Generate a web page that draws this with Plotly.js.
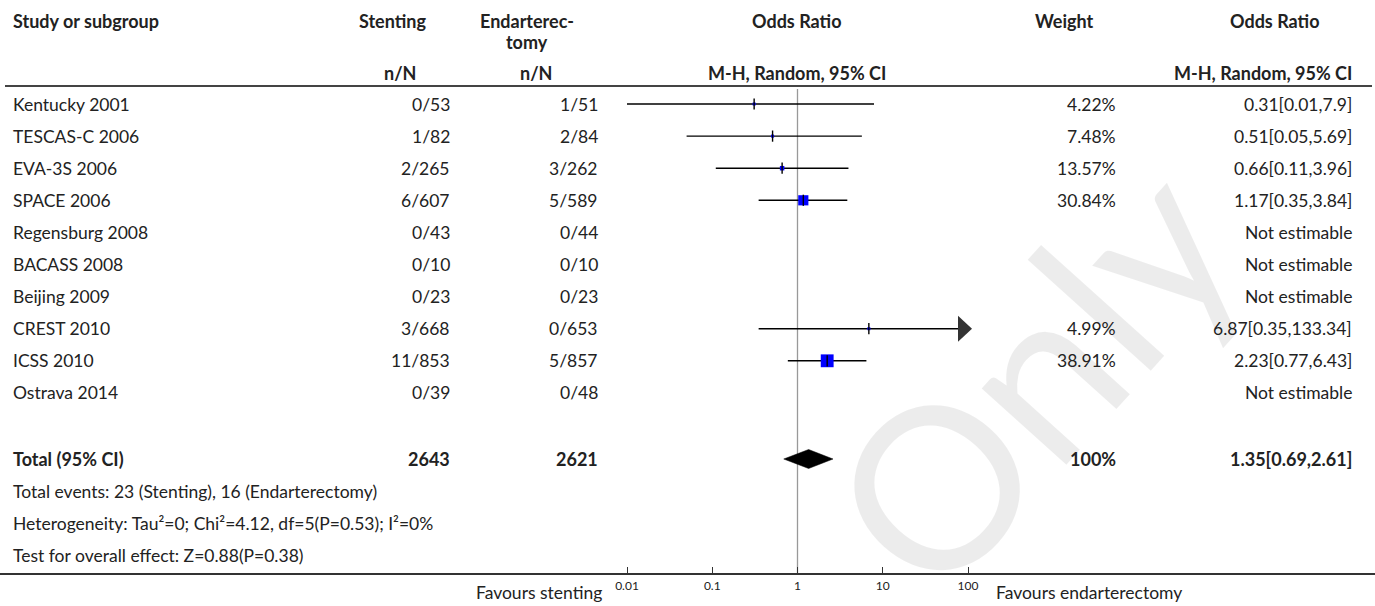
<!DOCTYPE html>
<html>
<head>
<meta charset="utf-8">
<script src="https://cdn.plot.ly/plotly-3.0.1.min.js"></script>
<style>html,body{margin:0;padding:0;background:#fff;}#chart{width:1375px;height:606px;}</style>
</head>
<body>
<div id="chart"></div>
<script>
// ---------- data ----------
const studies = ['Kentucky 2001','TESCAS-C 2006','EVA-3S 2006','SPACE 2006','Regensburg 2008','BACASS 2008','Beijing 2009','CREST 2010','ICSS 2010','Ostrava 2014'];
const stentingNN = ['0/53','1/82','2/265','6/607','0/43','0/10','0/23','3/668','11/853','0/39'];
const endartNN = ['1/51','2/84','3/262','5/589','0/44','0/10','0/23','0/653','5/857','0/48'];
const oddsRatio = [0.31,0.51,0.66,1.17,null,null,null,6.87,2.23,null];
const ciLow = [0.01,0.05,0.11,0.35,null,null,null,0.35,0.77,null];
const ciHigh = [7.9,5.69,3.96,3.84,null,null,null,133.34,6.43,null];
const weights = [4.22,7.48,13.57,30.84,null,null,null,4.99,38.91,null];
const orLabels = ['0.31[0.01,7.9]','0.51[0.05,5.69]','0.66[0.11,3.96]','1.17[0.35,3.84]','Not estimable','Not estimable','Not estimable','6.87[0.35,133.34]','2.23[0.77,6.43]','Not estimable'];
const totalStenting = '2643';
const totalEndart = '2621';
const totalWeight = '100%';
const totalOR = 1.35, totalLow = 0.69, totalHigh = 2.61;
const totalLabel = '1.35[0.69,2.61]';
const footLines = ['Total events: 23 (Stenting), 16 (Endarterectomy)',
  'Heterogeneity: Tau\u00b2=0; Chi\u00b2=4.12, df=5(P=0.53); I\u00b2=0%',
  'Test for overall effect: Z=0.88(P=0.38)'];
const tickVals = [0.01,0.1,1,10,100];
const tickText = ['0.01','0.1','1','10','100'];
const axisMax = 100;

// ---------- layout helpers ----------
const W = 1375, H = 606;
const FONT = 'Lato, "Source Sans Pro", sans-serif';
const FS = 17.5, FSB = 18;
const PITCH = 32.1, ROW0 = 104;
const rowOfPx = p => (p - ROW0) / PITCH;
const px = x => x / W;
const X_AX0 = 627, X_AX1 = 968;
const dec = (X_AX1 - X_AX0) / 4;
const xRange = [-2 - X_AX0 / dec, 2 + (W - X_AX1) / dec];

const rowTotal = rowOfPx(459);
const footRows = [rowOfPx(491), rowOfPx(523), rowOfPx(555)];

const traces = [];
traces.push({x:[1,1], y:[rowOfPx(89), rowOfPx(574)], mode:'lines', line:{color:'#999', width:1.3}, hoverinfo:'skip', showlegend:false});

studies.forEach((s,i) => {
  if (oddsRatio[i] == null) return;
  const clipped = ciHigh[i] > axisMax;
  const hiEnd = clipped ? Math.pow(10, Math.log10(axisMax) - 10/dec) : ciHigh[i];
  traces.push({x:[ciLow[i], hiEnd], y:[i,i], mode:'lines', line:{color:'#000', width:1.4}, hoverinfo:'skip', showlegend:false});
  traces.push({x:[oddsRatio[i]], y:[i], mode:'markers', marker:{symbol:'square', color:'#0000ff', size:Math.max(3, weights[i]*0.33), line:{width:0}}, hoverinfo:'skip', showlegend:false});
  traces.push({x:[oddsRatio[i]], y:[i], mode:'markers', marker:{symbol:'line-ns-open', color:'#000', size:8, line:{width:1.4, color:'#000'}}, hoverinfo:'skip', showlegend:false});
  if (clipped) {
    const xb = Math.pow(10, Math.log10(axisMax) - 10/dec), xt = Math.pow(10, Math.log10(axisMax) + 4/dec);
    const hh = 13 / PITCH;
    traces.push({x:[xb, xt, xb, xb], y:[i-hh, i, i+hh, i-hh], mode:'lines', fill:'toself', fillcolor:'#333', line:{width:0, color:'#333'}, hoverinfo:'skip', showlegend:false});
  }
});
const dh = 9.5 / PITCH;
traces.push({x:[totalLow, totalOR, totalHigh, totalOR, totalLow], y:[rowTotal, rowTotal-dh, rowTotal, rowTotal+dh, rowTotal],
  mode:'lines', fill:'toself', fillcolor:'#000', line:{color:'#000', width:0.5}, hoverinfo:'skip', showlegend:false});

// ---------- annotations ----------
const ann = [];
function T(text, x, y, anchor, bold) {
  ann.push({text: bold ? '<b>' + text + '</b>' : text, x:px(x), xref:'paper', y:y, yref:'y', xanchor:anchor, yanchor:'middle', showarrow:false,
    font:{family:FONT, size: bold ? FSB : FS, color:'#222'}});
}
ann.push({text:'Only', x:px(1030), y:1-375/H, xref:'paper', yref:'paper', showarrow:false, textangle:-48,
  font:{family:FONT, size:225, color:'rgba(0,0,0,0.075)'}, xanchor:'center', yanchor:'middle'});

const rH1 = rowOfPx(21), rH1b = rowOfPx(42), rH2 = rowOfPx(73);
const L = 11;
const C_ST = 392, C_STn = 400, C_EN = 527, C_ENn = 536, R_ST = 452, R_EN = 600, R_W = 1118, C_W = 1064, R_OR = 1354, C_OR = 1275;
T('Study or subgroup', L, rH1, 'left', true);
T('Stenting', C_ST, rH1, 'center', true);
T('Endarterec-', C_EN, rH1, 'center', true);
T('tomy', C_EN, rH1b, 'center', true);
T('Odds Ratio', 797, rH1, 'center', true);
T('Weight', C_W, rH1, 'center', true);
T('Odds Ratio', C_OR, rH1, 'center', true);
T('n/N', C_STn, rH2, 'center', true);
T('n/N', C_ENn, rH2, 'center', true);
T('M-H, Random, 95% CI', 797, rH2, 'center', true);
T('M-H, Random, 95% CI', R_OR, rH2, 'right', true);

studies.forEach((s,i) => {
  T(s, L, i, 'left');
  T(stentingNN[i], R_ST, i, 'right');
  T(endartNN[i], R_EN, i, 'right');
  if (weights[i] != null) T(weights[i].toFixed(2) + '%', R_W, i, 'right');
  T(orLabels[i], R_OR, i, 'right');
});
T('Total (95% CI)', L, rowTotal, 'left', true);
T(totalStenting, R_ST, rowTotal, 'right', true);
T(totalEndart, R_EN, rowTotal, 'right', true);
T(totalWeight, R_W, rowTotal, 'right', true);
T(totalLabel, R_OR, rowTotal, 'right', true);
footLines.forEach((t,k) => T(t, L, footRows[k], 'left'));
T('Favours stenting', 604, rowOfPx(592), 'right');
T('Favours endarterectomy', 994, rowOfPx(592), 'left');

const shapes = [
  {type:'line', xref:'paper', yref:'paper', x0:px(5), x1:px(1372), y0:1-86/H, y1:1-86/H, line:{color:'#444', width:2.2}},
];

const layout = {
  width:W, height:H, margin:{l:0,r:0,t:0,b:0}, paper_bgcolor:'#fff', plot_bgcolor:'rgba(0,0,0,0)',
  showlegend:false,
  xaxis:{type:'log', range:xRange, domain:[0,1], anchor:'free', position:1-574/H,
    showline:true, linecolor:'#333', linewidth:2.2, showgrid:false, zeroline:false,
    ticks:'inside', ticklen:6, tickwidth:1, tickcolor:'#333', tickvals:tickVals, ticktext:tickText,
    tickfont:{family:FONT, size:12, color:'#222'}, fixedrange:true},
  yaxis:{range:[rowOfPx(H), rowOfPx(0)], domain:[0,1], visible:false, showgrid:false, zeroline:false, fixedrange:true},
  annotations:ann, shapes:shapes
};
Plotly.newPlot('chart', traces, layout, {displayModeBar:false, staticPlot:true});
</script>
</body>
</html>
